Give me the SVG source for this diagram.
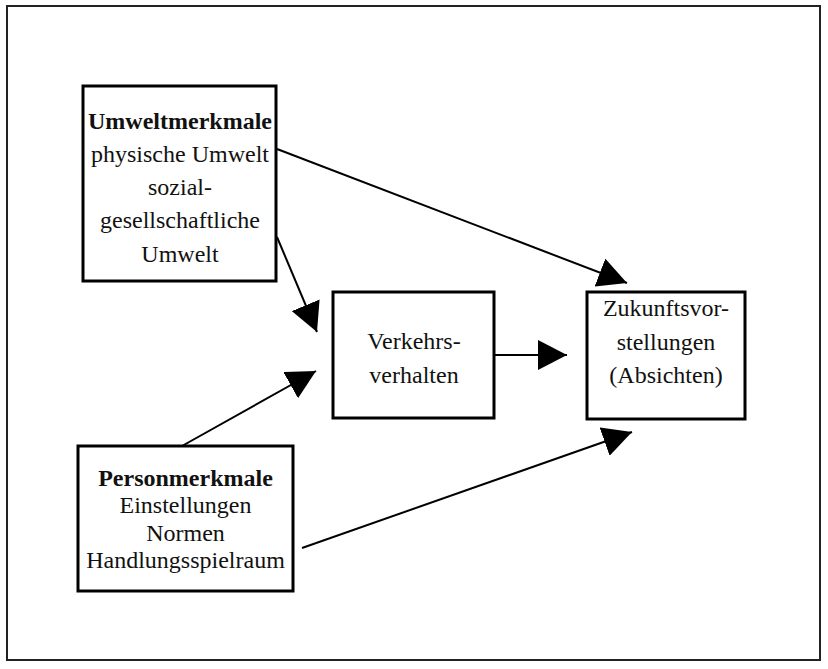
<svg xmlns="http://www.w3.org/2000/svg" width="828" height="669" viewBox="0 0 828 669">
<style>
.box{fill:#fff;stroke:#000;stroke-width:3}
.t{font-family:"Liberation Serif","Times New Roman",serif;font-size:24px;fill:#111;text-anchor:middle}
.b{font-weight:bold}
.c{stroke:#000;stroke-width:2;fill:none;marker-end:url(#ah)}
</style>
<defs>
<marker id="ah" markerUnits="userSpaceOnUse" markerWidth="30" markerHeight="30" refX="29" refY="15" orient="auto" viewBox="0 0 30 30">
<path d="M0,0 L29,15 L0,30 Z" fill="#000"/>
</marker>
</defs>
<rect width="828" height="669" fill="#fff"/>
<rect id="frame" x="7" y="6" width="813" height="654" fill="none" stroke="#222" stroke-width="2"/>
<g id="connectors">
<line class="c" x1="277" y1="149" x2="627" y2="283"/>
<line class="c" x1="277" y1="237" x2="317" y2="332"/>
<line class="c" x1="182" y1="446" x2="316" y2="371"/>
<line class="c" x1="494" y1="355" x2="567" y2="355"/>
<line class="c" x1="302" y1="548" x2="632" y2="432"/>
</g>
<g id="umwelt">
<rect class="box" x="83" y="86" width="193" height="195"/>
<text class="t b" x="180" y="129">Umweltmerkmale</text>
<text class="t" x="180" y="162">physische Umwelt</text>
<text class="t" x="180" y="195">sozial-</text>
<text class="t" x="180" y="228">gesellschaftliche</text>
<text class="t" x="180" y="262">Umwelt</text>
</g>
<g id="verkehr">
<rect class="box" x="333" y="292" width="161" height="126"/>
<text class="t" x="414" y="349">Verkehrs-</text>
<text class="t" x="414" y="383">verhalten</text>
</g>
<g id="zukunft">
<rect class="box" x="587" y="292" width="158" height="127"/>
<text class="t" x="666" y="316">Zukunftsvor-</text>
<text class="t" x="666" y="350">stellungen</text>
<text class="t" x="666" y="383">(Absichten)</text>
</g>
<g id="person">
<rect class="box" x="78" y="446" width="215" height="145"/>
<text class="t b" x="185.5" y="486">Personmerkmale</text>
<text class="t" x="185.5" y="513">Einstellungen</text>
<text class="t" x="185.5" y="541">Normen</text>
<text class="t" x="185.5" y="568">Handlungsspielraum</text>
</g>
</svg>
